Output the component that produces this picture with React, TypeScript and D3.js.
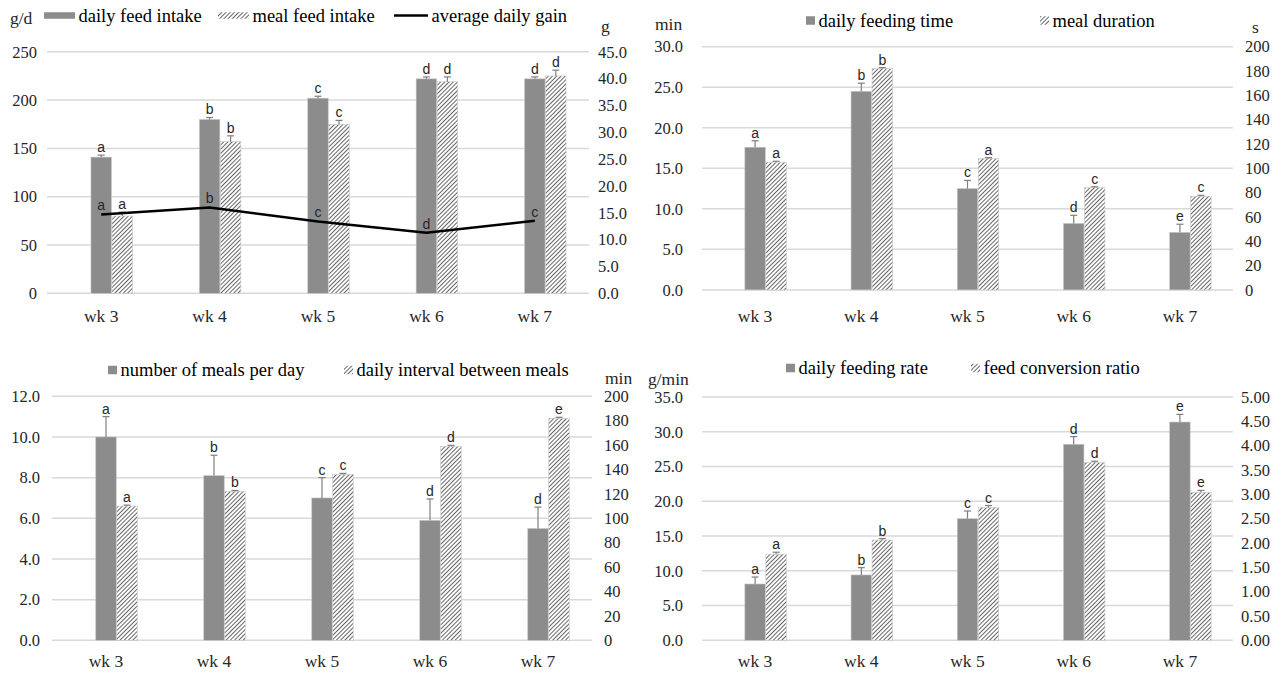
import React from "react";
import * as d3 from "d3";

// categories
const weeks = ["wk 3", "wk 4", "wk 5", "wk 6", "wk 7"];

// top-left: intake and gain
const dailyFeedIntake = [141, 180, 202, 222, 222];
const dailyFeedIntakeErr = [2, 2, 2, 2, 2];
const dailyFeedIntakeLetters = ["a", "b", "c", "d", "d"];
const mealFeedIntake = [80, 157, 175, 219, 225];
const mealFeedIntakeErr = [4, 6, 4, 5, 6];
const mealFeedIntakeLetters = ["a", "b", "c", "d", "d"];
const averageDailyGain = [14.7, 16.0, 13.4, 11.3, 13.5];
const averageDailyGainLetters = ["a", "b", "c", "d", "c"];
const intakeTicks = [0, 50, 100, 150, 200, 250];
const gainTicks = [0, 5, 10, 15, 20, 25, 30, 35, 40, 45];

// top-right: feeding time and meal duration
const dailyFeedingTime = [17.6, 24.5, 12.5, 8.2, 7.1];
const dailyFeedingTimeErr = [0.8, 1.0, 1.0, 1.0, 1.0];
const dailyFeedingTimeLetters = ["a", "b", "c", "d", "e"];
const mealDuration = [105, 182, 108, 84, 77];
const mealDurationErr = [0.8, 0.8, 0.8, 0.8, 0.8];
const mealDurationLetters = ["a", "b", "a", "c", "c"];
const timeTicks = [0, 5, 10, 15, 20, 25, 30];
const durationTicks = [0, 20, 40, 60, 80, 100, 120, 140, 160, 180, 200];

// bottom-left: meals per day and interval
const mealsPerDay = [10.0, 8.1, 7.0, 5.9, 5.5];
const mealsPerDayErr = [1.0, 1.0, 1.0, 1.05, 1.05];
const mealsPerDayLetters = ["a", "b", "c", "d", "d"];
const mealInterval = [110, 122, 136, 159, 182];
const mealIntervalErr = [0.8, 0.8, 0.8, 0.8, 0.8];
const mealIntervalLetters = ["a", "b", "c", "d", "e"];
const mealsTicks = [0, 2, 4, 6, 8, 10, 12];
const intervalTicks = [0, 20, 40, 60, 80, 100, 120, 140, 160, 180, 200];

// bottom-right: feeding rate and FCR
const dailyFeedingRate = [8.1, 9.4, 17.5, 28.2, 31.4];
const dailyFeedingRateErr = [1.0, 1.05, 1.1, 1.1, 1.1];
const dailyFeedingRateLetters = ["a", "b", "c", "d", "e"];
const feedConversionRatio = [1.77, 2.06, 2.73, 3.65, 3.04];
const feedConversionRatioErr = [0.04, 0.03, 0.04, 0.03, 0.04];
const feedConversionRatioLetters = ["a", "b", "c", "d", "e"];
const rateTicks = [0, 5, 10, 15, 20, 25, 30, 35];
const fcrTicks = [0, 0.5, 1, 1.5, 2, 2.5, 3, 3.5, 4, 4.5, 5];

const GRAY = "#8c8c8c";
const serif = { fontFamily: '"Liberation Serif", "DejaVu Serif", serif' };
const sans = { fontFamily: '"Liberation Sans Narrow", "Liberation Sans", sans-serif' };

const Panel = ({ p }) => {
    const x = d3.scaleBand().domain(weeks).range([p.x0, p.x1]);
    const yL = d3.scaleLinear().domain([0, p.leftMax]).range([p.yBottom, p.yTop]);
    const yR = d3.scaleLinear().domain([0, p.rightMax]).range([p.yBottom, p.yTop]);
    const barW = 20.5;
    const mid = (d) => x(d) + x.bandwidth() / 2;
    // gray bar sits on the category centre, hatched bar right next to it
    const barX = (d, i) => mid(d) - barW / 2 + i * (barW + 0.5);
    const series = [
        { values: p.grayValues, err: p.grayErr, letters: p.grayLetters, y: yL, fill: GRAY },
        { values: p.hatchValues, err: p.hatchErr, letters: p.hatchLetters, y: p.hatchAxis === "left" ? yL : yR, fill: "url(#hatch)" },
    ];
    const line = p.lineValues
        ? d3.line().x((d, i) => mid(weeks[i])).y((d) => yR(d))(p.lineValues)
        : null;

    return (
        <g>
            {p.leftTicks.map((t) => (
                <g key={"l" + t}>
                    <line x1={p.x0} x2={p.x1} y1={yL(t)} y2={yL(t)} stroke="#d9d9d9" strokeWidth={1.5} />
                    <text x={p.leftLabelX} y={yL(t)} dy="0.35em" textAnchor="end" style={serif} fontSize={16.5} fill="#262626">
                        {p.leftFmt(t)}
                    </text>
                </g>
            ))}
            {p.rightTicks.map((t) => (
                <text key={"r" + t} x={p.rightLabelX} y={yR(t)} dy="0.35em" style={serif} fontSize={16.5} fill="#262626">
                    {p.rightFmt(t)}
                </text>
            ))}
            <text x={p.leftUnitX} y={p.leftUnitY} style={serif} fontSize={17.5} fill="#262626">{p.leftUnit}</text>
            <text x={p.rightUnitX} y={p.rightUnitY} style={serif} fontSize={17.5} fill="#262626">{p.rightUnit}</text>
            {weeks.map((w) => (
                <text key={w} x={mid(w)} y={p.catY} textAnchor="middle" style={serif} fontSize={17.5} fill="#262626">
                    {w}
                </text>
            ))}
            {series.map((s, si) =>
                weeks.map((w, i) => {
                    const bx = barX(w, si);
                    const top = s.y(s.values[i]);
                    const errTop = s.y(s.values[i] + s.err[i]);
                    const cx = bx + barW / 2;
                    return (
                        <g key={si + w}>
                            <rect x={bx} y={top} width={barW} height={p.yBottom - top} fill={s.fill} stroke="#c8c8c8" strokeWidth={0.6} />
                            <line x1={cx} x2={cx} y1={top} y2={errTop} stroke="#7f7f7f" strokeWidth={1.2} />
                            <line x1={cx - 3.5} x2={cx + 3.5} y1={errTop} y2={errTop} stroke="#7f7f7f" strokeWidth={1.2} />
                            <text x={cx} y={errTop - 3} textAnchor="middle" style={sans} fontSize={14} fill="#262626">
                                {s.letters[i]}
                            </text>
                        </g>
                    );
                })
            )}
            {line && <path d={line} fill="none" stroke="#000" strokeWidth={2.5} />}
            {line &&
                p.lineValues.map((v, i) => (
                    <text key={"ll" + i} x={mid(weeks[i])} y={yR(v) - 4} textAnchor="middle" style={sans} fontSize={14} fill="#262626">
                        {p.lineLetters[i]}
                    </text>
                ))}
            {p.legend.map((l) => (
                <g key={l.label}>
                    {l.kind === "line" ? (
                        <line x1={l.x} x2={l.x + l.w} y1={p.legendY} y2={p.legendY} stroke="#000" strokeWidth={2.5} />
                    ) : (
                        <rect x={l.x} y={p.legendY - l.h / 2} width={l.w} height={l.h} fill={l.kind === "gray" ? GRAY : "url(#hatch)"} />
                    )}
                    <text x={l.x + l.w + 3.5} y={p.legendY} dy="0.35em" style={serif} fontSize={18.5} fill="#000">
                        {l.label}
                    </text>
                </g>
            ))}
        </g>
    );
};

const f0 = (d) => d3.format("d")(d);
const f1 = (d) => d3.format(".1f")(d);
const f2 = (d) => d3.format(".2f")(d);

const panels = [
    {
        x0: 47, x1: 589, yTop: 51.8, yBottom: 293.3, catY: 322,
        leftMax: 250, leftTicks: intakeTicks, leftFmt: f0, leftLabelX: 37,
        rightMax: 45, rightTicks: gainTicks, rightFmt: f1, rightLabelX: 598,
        leftUnit: "g/d", leftUnitX: 10, leftUnitY: 24, rightUnit: "g", rightUnitX: 601, rightUnitY: 32,
        grayValues: dailyFeedIntake, grayErr: dailyFeedIntakeErr, grayLetters: dailyFeedIntakeLetters,
        hatchValues: mealFeedIntake, hatchErr: mealFeedIntakeErr, hatchLetters: mealFeedIntakeLetters, hatchAxis: "left",
        lineValues: averageDailyGain, lineLetters: averageDailyGainLetters,
        legendY: 15.5,
        legend: [
            { label: "daily feed intake", kind: "gray", x: 44, w: 31, h: 6.5 },
            { label: "meal feed intake", kind: "hatch", x: 218, w: 31, h: 6.5 },
            { label: "average daily gain", kind: "line", x: 394, w: 34, h: 6.5 },
        ],
    },
    {
        x0: 702, x1: 1233, yTop: 46.7, yBottom: 289.9, catY: 322,
        leftMax: 30, leftTicks: timeTicks, leftFmt: f1, leftLabelX: 683,
        rightMax: 200, rightTicks: durationTicks, rightFmt: f0, rightLabelX: 1245,
        leftUnit: "min", leftUnitX: 655, leftUnitY: 30, rightUnit: "s", rightUnitX: 1252, rightUnitY: 33,
        grayValues: dailyFeedingTime, grayErr: dailyFeedingTimeErr, grayLetters: dailyFeedingTimeLetters,
        hatchValues: mealDuration, hatchErr: mealDurationErr, hatchLetters: mealDurationLetters, hatchAxis: "right",
        legendY: 20.5,
        legend: [
            { label: "daily feeding time", kind: "gray", x: 806, w: 9, h: 8.5 },
            { label: "meal duration", kind: "hatch", x: 1040, w: 9, h: 8.5 },
        ],
    },
    {
        x0: 52, x1: 592, yTop: 396.3, yBottom: 640.3, catY: 667,
        leftMax: 12, leftTicks: mealsTicks, leftFmt: f1, leftLabelX: 40,
        rightMax: 200, rightTicks: intervalTicks, rightFmt: f0, rightLabelX: 604,
        leftUnit: "", leftUnitX: 0, leftUnitY: 0, rightUnit: "min", rightUnitX: 605, rightUnitY: 384,
        grayValues: mealsPerDay, grayErr: mealsPerDayErr, grayLetters: mealsPerDayLetters,
        hatchValues: mealInterval, hatchErr: mealIntervalErr, hatchLetters: mealIntervalLetters, hatchAxis: "right",
        legendY: 370,
        legend: [
            { label: "number of meals per day", kind: "gray", x: 108, w: 9, h: 8.5 },
            { label: "daily interval between meals", kind: "hatch", x: 344, w: 9, h: 8.5 },
        ],
    },
    {
        x0: 702, x1: 1233, yTop: 397, yBottom: 640.3, catY: 667,
        leftMax: 35, leftTicks: rateTicks, leftFmt: f1, leftLabelX: 683,
        rightMax: 5, rightTicks: fcrTicks, rightFmt: f2, rightLabelX: 1241,
        leftUnit: "g/min", leftUnitX: 648, leftUnitY: 385, rightUnit: "", rightUnitX: 0, rightUnitY: 0,
        grayValues: dailyFeedingRate, grayErr: dailyFeedingRateErr, grayLetters: dailyFeedingRateLetters,
        hatchValues: feedConversionRatio, hatchErr: feedConversionRatioErr, hatchLetters: feedConversionRatioLetters, hatchAxis: "right",
        legendY: 368,
        legend: [
            { label: "daily feeding rate", kind: "gray", x: 786, w: 9, h: 8.5 },
            { label: "feed conversion ratio", kind: "hatch", x: 971, w: 9, h: 8.5 },
        ],
    },
];

const App = () => {
    return (
        <svg width={1288} height={673} style={{ position: "absolute", left: 0, top: 0, background: "#fff" }}>
            <defs>
                <pattern id="hatch" patternUnits="userSpaceOnUse" width={3} height={3} patternTransform="rotate(45)">
                    <rect width={3} height={3} fill="#fff" />
                    <line x1={0} y1={0} x2={0} y2={3} stroke="#333" strokeWidth={1.5} />
                </pattern>
            </defs>
            {panels.map((p, i) => (
                <Panel key={i} p={p} />
            ))}
        </svg>
    );
};

export default App;
